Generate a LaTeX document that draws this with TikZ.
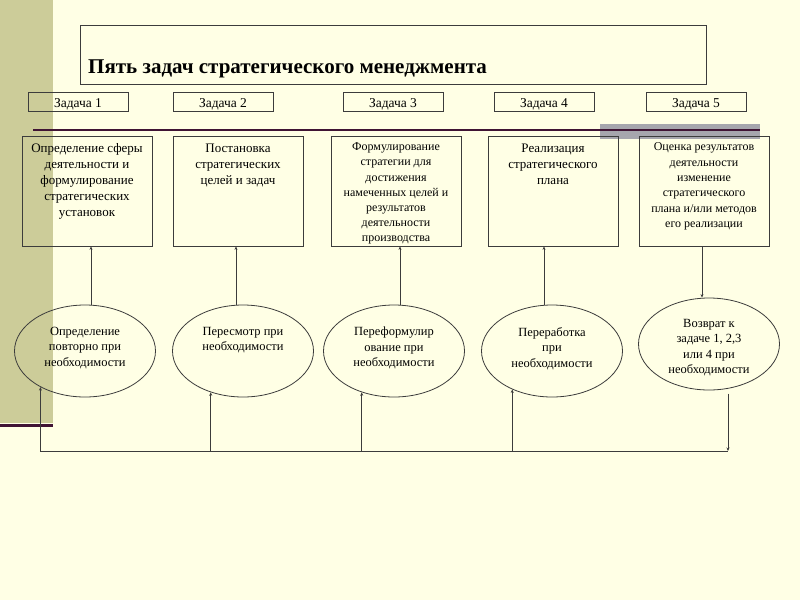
\documentclass[tikz,border=0pt]{standalone}
\usepackage{fontspec}
\setmainfont{Liberation Serif}
\usetikzlibrary{positioning,shapes.geometric,arrows.meta}
\definecolor{bgyellow}{RGB}{255,255,229}
\definecolor{stripcol}{RGB}{204,204,153}
\definecolor{plum}{RGB}{64,20,52}
\definecolor{bandgray}{RGB}{166,166,173}
\definecolor{linegray}{RGB}{60,60,60}
\tikzset{
    zbox/.style={draw=linegray, thick, minimum width=100pt, minimum height=19pt, inner sep=0pt, text height=12pt, text depth=0pt, font=\fontsize{13.5}{14}\selectfont},
    bigbox/.style={draw=linegray, thick, minimum width=130pt, minimum height=110pt, inner sep=0pt},
    boxtext/.style={align=center, anchor=north, inner sep=0pt, font=\fontsize{13}{16}\selectfont},
    ovaltext/.style={align=center, anchor=north, inner sep=0pt, font=\fontsize{12.5}{15.5}\selectfont},
    oval/.style={draw=linegray, thick, ellipse, minimum width=141pt, minimum height=92pt, inner sep=0pt},
    toarrow/.style={draw=linegray, thick, -{Stealth[length=3.5pt,width=3pt]}}
}
\begin{document}
\begin{tikzpicture}[x=1pt, y=-1pt]
    \useasboundingbox (0,0) rectangle (800,600);
    \fill[bgyellow] (0,0) rectangle (800,600);
    \fill[stripcol] (0,0) rectangle (53,423);
    \draw[plum, line width=3pt] (0,425) -- (53,425);

    \node[draw=linegray, thick, minimum width=626pt, minimum height=59pt, inner sep=0pt] (titlebox) at (393,54.5) {};
    \node[anchor=base west, inner sep=0pt, font=\bfseries\fontsize{21}{24}\selectfont] (title) at (88,73) {Пять задач стратегического менеджмента};

    \node[zbox] (z1) at (78,101.5)  {Задача 1};
    \node[zbox] (z2) at (223,101.5) {Задача 2};
    \node[zbox] (z3) at (393,101.5) {Задача 3};
    \node[zbox] (z4) at (544,101.5) {Задача 4};
    \node[zbox] (z5) at (696,101.5) {Задача 5};

    \fill[bandgray] (600,124) rectangle (760,139);
    \draw[plum, line width=2pt] (33,130) -- (760,130);

    \node[bigbox] (b1) at (87,191)  {};
    \node[bigbox] (b2) at (238,191) {};
    \node[bigbox] (b3) at (396,191) {};
    \node[bigbox] (b4) at (553,191) {};
    \node[bigbox] (b5) at (704,191) {};

    \node[boxtext] (t1) at ([yshift=-8pt]b1.north) {Определение сферы\\деятельности и\\формулирование\\стратегических\\установок};
    \node[boxtext] (t2) at ([yshift=-8pt]b2.north) {Постановка\\стратегических\\целей и задач};
    \node[boxtext, font=\fontsize{12}{15.2}\selectfont] (t3) at ([yshift=-7pt]b3.north) {Формулирование\\стратегии для\\достижения\\намеченных целей и\\результатов\\деятельности\\производства};
    \node[boxtext] (t4) at ([yshift=-8pt]b4.north) {Реализация\\стратегического\\плана};
    \node[boxtext, font=\fontsize{12}{15.4}\selectfont] (t5) at ([yshift=-7pt]b5.north) {Оценка результатов\\деятельности\\изменение\\стратегического\\плана и/или методов\\его реализации};

    \node[oval] (e1) at (85,351)  {};
    \node[oval] (e2) at (243,351) {};
    \node[oval] (e3) at (394,351) {};
    \node[oval] (e4) at (552,351) {};
    \node[oval] (e5) at (709,344) {};

    \node[ovaltext] (s1) at (85,327)  {Определение\\повторно при\\необходимости};
    \node[ovaltext] (s2) at (243,327) {Пересмотр при\\необходимости};
    \node[ovaltext] (s3) at (394,327) {Переформулир\\ование при\\необходимости};
    \node[ovaltext] (s4) at (552,327) {Переработка\\при\\необходимости};
    \node[ovaltext] (s5) at (709,319) {Возврат к\\задаче 1, 2,3\\или 4 при\\необходимости};

    \draw[toarrow] ([xshift=4pt]b1.south |- e1.north) -- ([xshift=4pt]b1.south);
    \draw[toarrow] ([xshift=-2pt]b2.south |- e2.north) -- ([xshift=-2pt]b2.south);
    \draw[toarrow] ([xshift=4pt]b3.south |- e3.north) -- ([xshift=4pt]b3.south);
    \draw[toarrow] ([xshift=-9pt]b4.south |- e4.north) -- ([xshift=-9pt]b4.south);
    \draw[toarrow] ([xshift=-2pt]b5.south) -- ([xshift=-2pt]b5.south |- e5.north);

    \coordinate (fbL) at (40,451);
    \coordinate (fbR) at (728,451);
    \draw[draw=linegray, thick] (fbL) -- (fbR);
    \draw[toarrow] (e1.219 |- fbL) -- (e1.219);
    \draw[toarrow] (e2.232 |- fbL) -- (e2.232);
    \draw[toarrow] (e3.232 |- fbL) -- (e3.232);
    \draw[toarrow] (e4.224 |- fbL) -- (e4.224);
    \draw[toarrow] ([yshift=-5pt]e5.293) -- (e5.293 |- fbR);
\end{tikzpicture}
\end{document}
